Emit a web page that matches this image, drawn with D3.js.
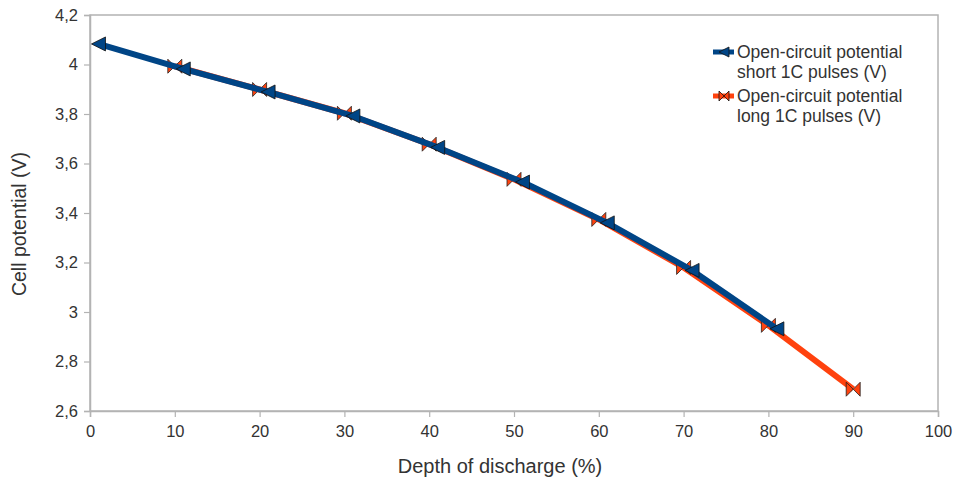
<!DOCTYPE html>
<html><head><meta charset="utf-8">
<script src="https://cdn.jsdelivr.net/npm/d3@7"></script>
<style>body{margin:0;background:#fff}svg{display:block;font-family:"Liberation Sans",Arial,sans-serif}</style>
</head><body><svg id="c" width="955" height="483"></svg>
<script>
const xTicks = [0,10,20,30,40,50,60,70,80,90,100];
const yTicks = [2.6,2.8,3,3.2,3.4,3.6,3.8,4,4.2];
const shortX = [1,11,21,31,41,51,61,71,81];
const shortY = [4.083,3.982,3.889,3.792,3.665,3.525,3.36,3.168,2.932];
const longX = [10,20,30,40,50,60,70,80,90];
const longY = [3.993,3.899,3.803,3.678,3.536,3.374,3.18,2.946,2.688];
const seriesNames = [["Open-circuit potential","short 1C pulses (V)"],["Open-circuit potential","long 1C pulses (V)"]];
const colors = ["#004586","#ff420e"];

const svg = d3.select("#c");
const L=90,R=938,T=15,B=411;
const x = d3.scaleLinear().domain([0,100]).range([L,R]);
const y = d3.scaleLinear().domain([2.6,4.2]).range([B,T]);
const fmt = d => String(d).replace(".",",");

svg.append("rect").attr("x",L).attr("y",T).attr("width",R-L).attr("height",B-T)
  .attr("fill","none").attr("stroke","#b3b3b3").attr("stroke-width",1.5);

const xa = svg.append("g").attr("transform",`translate(0,${B})`)
  .call(d3.axisBottom(x).tickValues(xTicks).tickSize(6).tickPadding(8).tickFormat(d=>d));
const ya = svg.append("g").attr("transform",`translate(${L},0)`)
  .call(d3.axisLeft(y).tickValues(yTicks).tickSize(6).tickPadding(6).tickFormat(fmt));
[xa,ya].forEach(a=>{
  a.select(".domain").attr("stroke","#b3b3b3").attr("stroke-width",1.5);
  a.selectAll(".tick line").attr("stroke","#b3b3b3").attr("stroke-width",1.2);
  a.selectAll(".tick text").attr("fill","#333").style("font-size","16.5px");
});

svg.append("text").attr("x",500).attr("y",473).attr("text-anchor","middle")
  .attr("fill","#333").style("font-size","20px").text("Depth of discharge (%)");
svg.append("text").attr("transform",`translate(26,224) rotate(-90)`).attr("text-anchor","middle")
  .attr("fill","#333").style("font-size","19.5px").text("Cell potential (V)");

const line = d3.line().x(d=>x(d[0])).y(d=>y(d[1]));
const longPts = longX.map((v,i)=>[v,longY[i]]);
const shortPts = shortX.map((v,i)=>[v,shortY[i]]);

function bowtie(cx,cy,s){const h=s/2;return `M${cx-h},${cy-h}L${cx},${cy}L${cx-h},${cy+h}ZM${cx+h},${cy-h}L${cx},${cy}L${cx+h},${cy+h}Z`;}
function triLeft(cx,cy,s){const h=s/2;return `M${cx-h},${cy}L${cx+h},${cy-h}L${cx+h},${cy+h}Z`;}

svg.append("path").attr("d",line(longPts)).attr("fill","none").attr("stroke",colors[1]).attr("stroke-width",6).attr("stroke-linejoin","round");
svg.append("g").selectAll("path").data(longPts).join("path")
  .attr("d",d=>bowtie(x(d[0]),y(d[1]),14)).attr("fill",colors[1]).attr("stroke","#222").attr("stroke-width",0.8);
svg.append("path").attr("d",line(shortPts)).attr("fill","none").attr("stroke",colors[0]).attr("stroke-width",6).attr("stroke-linejoin","round");
svg.append("g").selectAll("path").data(shortPts).join("path")
  .attr("d",d=>triLeft(x(d[0]),y(d[1]),14)).attr("fill",colors[0]).attr("stroke","#111").attr("stroke-width",0.8);

const lg = svg.append("g");
const legY=[52,96];
seriesNames.forEach((nm,i)=>{
  const cy = legY[i];
  lg.append("line").attr("x1",713).attr("x2",734).attr("y1",cy).attr("y2",cy).attr("stroke",colors[i]).attr("stroke-width",5);
  lg.append("path").attr("d", i===0?triLeft(724,cy,10):bowtie(724,cy,10))
    .attr("fill",colors[i]).attr("stroke","#111").attr("stroke-width",0.8);
  nm.forEach((t,j)=>lg.append("text").attr("x",737).attr("y",cy+6+j*20).attr("fill","#333").style("font-size","17.5px").text(t));
});
</script></body></html>
